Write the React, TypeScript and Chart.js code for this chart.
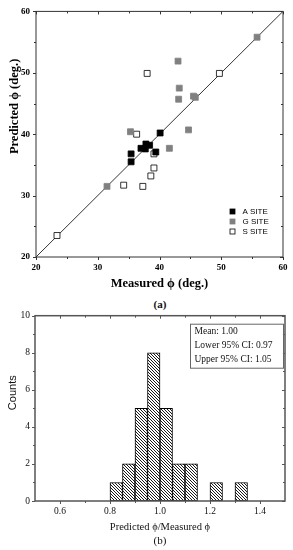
import React, { useEffect, useRef } from 'react';
import { Chart, registerables } from 'chart.js';

Chart.register(...registerables);

const SERIF = '"Liberation Serif", "Times New Roman", serif';
const SANS = '"Liberation Sans", Arial, sans-serif';

// ---------- Panel (a): measured vs predicted friction angle ----------
const siteLabels = ['A SITE', 'G SITE', 'S SITE'];
const aSiteMeasured = [35.4, 35.4, 37.0, 37.7, 37.8, 38.4, 39.4, 40.1];
const aSitePredicted = [36.8, 35.5, 37.7, 37.6, 38.4, 38.2, 37.1, 40.2];
const gSiteMeasured = [31.5, 35.3, 41.6, 43.0, 43.2, 43.1, 44.7, 45.5, 45.8, 55.8];
const gSitePredicted = [31.5, 40.4, 37.7, 51.9, 47.5, 45.7, 40.7, 46.2, 46.0, 55.8];
const sSiteMeasured = [23.4, 34.2, 36.3, 37.3, 38.0, 38.6, 39.1, 39.1, 49.7];
const sSitePredicted = [23.5, 31.7, 40.0, 31.5, 49.9, 33.2, 36.8, 34.5, 49.9];
const phiRange = [20, 60];
const phiTicks = [20, 30, 40, 50, 60];
const phiMinorTicks = [25, 35, 45, 55];

// ---------- Panel (b): histogram of predicted/measured ratio ----------
const binStarts = [0.8, 0.85, 0.9, 0.95, 1.0, 1.05, 1.1, 1.2, 1.3];
const binCounts = [1, 2, 5, 8, 5, 2, 2, 1, 1];
const binWidth = 0.05;
const ratioRange = [0.5, 1.5];
const ratioTicks = [0.6, 0.8, 1.0, 1.2, 1.4];
const ratioMinorTicks = [0.7, 0.9, 1.1, 1.3];
const countRange = [0, 10];
const countTicks = [0, 2, 4, 6, 8, 10];
const countMinorTicks = [1, 3, 5, 7, 9];
const statLines = ['Mean: 1.00', 'Lower 95% CI: 0.97', 'Upper 95% CI: 1.05'];

type FrameCfg = {
  color: string;
  width: number;
  xMajor: number[];
  xMinor: number[];
  yMajor: number[];
  yMinor: number[];
  majorLen: number;
  minorLen: number;
};

function makeFramePlugin(cfg: FrameCfg) {
  return {
    id: 'frameTicks',
    afterDraw(chart: any) {
      const { ctx, chartArea: a } = chart;
      const xs = chart.scales.x;
      const ys = chart.scales.y;
      ctx.save();
      ctx.strokeStyle = cfg.color;
      ctx.lineWidth = cfg.width;
      ctx.strokeRect(a.left, a.top, a.right - a.left, a.bottom - a.top);
      ctx.lineWidth = 1;
      ctx.beginPath();
      const xt = (vals: number[], len: number) =>
        vals.forEach((v) => {
          const p = Math.round(xs.getPixelForValue(v)) + 0.5;
          ctx.moveTo(p, a.bottom);
          ctx.lineTo(p, a.bottom + len);
          ctx.moveTo(p, a.top);
          ctx.lineTo(p, a.top + len);
        });
      const yt = (vals: number[], len: number) =>
        vals.forEach((v) => {
          const p = Math.round(ys.getPixelForValue(v)) + 0.5;
          ctx.moveTo(a.left, p);
          ctx.lineTo(a.left - len, p);
          ctx.moveTo(a.right, p);
          ctx.lineTo(a.right - len, p);
        });
      xt(cfg.xMajor, cfg.majorLen);
      xt(cfg.xMinor, cfg.minorLen);
      yt(cfg.yMajor, cfg.majorLen);
      yt(cfg.yMinor, cfg.minorLen);
      ctx.stroke();
      ctx.restore();
    },
  };
}

// Vertical axis title, placed like the original (a little above the axis centre)
function makeYTitlePlugin(text: string, font: string, color: string, x: number, dyFromTop: number) {
  return {
    id: 'yTitle',
    afterDraw(chart: any) {
      const { ctx, chartArea: a } = chart;
      ctx.save();
      ctx.translate(x, a.top + dyFromTop);
      ctx.rotate(-Math.PI / 2);
      ctx.font = font;
      ctx.fillStyle = color;
      ctx.textAlign = 'center';
      ctx.textBaseline = 'middle';
      ctx.fillText(text, 0, 0);
      ctx.restore();
    },
  };
}

const siteLegendPlugin = {
  id: 'siteLegend',
  afterDraw(chart: any) {
    const { ctx, chartArea: a } = chart;
    ctx.save();
    ctx.font = `8px ${SANS}`;
    ctx.textBaseline = 'middle';
    ctx.textAlign = 'left';
    const side = 5;
    for (let i = 0; i < 3; i++) {
      const ds = chart.data.datasets[i];
      const cx = a.right - 50.5;
      const cy = a.bottom - 45.5 + i * 10;
      ctx.fillStyle = ds.backgroundColor;
      ctx.fillRect(cx - side / 2, cy - side / 2, side, side);
      ctx.strokeStyle = ds.borderColor;
      ctx.lineWidth = 0.8;
      ctx.strokeRect(cx - side / 2, cy - side / 2, side, side);
      ctx.fillStyle = '#000';
      ctx.fillText(ds.label, a.right - 40.5, cy);
    }
    ctx.restore();
  },
};

const statsBoxPlugin = {
  id: 'statsBox',
  afterDraw(chart: any) {
    const { ctx, chartArea: a } = chart;
    ctx.save();
    const w = 93;
    const h = 44;
    const x = a.right - 2 - w;
    const y = a.top + 8;
    ctx.fillStyle = '#fff';
    ctx.fillRect(x, y, w, h);
    ctx.strokeStyle = '#666';
    ctx.lineWidth = 1;
    ctx.strokeRect(x + 0.5, y + 0.5, w, h);
    ctx.fillStyle = '#111';
    ctx.font = `9.5px ${SERIF}`;
    ctx.textBaseline = 'middle';
    ctx.textAlign = 'left';
    statLines.forEach((t, i) => ctx.fillText(t, x + 4.5, y + 8 + i * 14));
    ctx.restore();
  },
};

function makeHatch(ctx: CanvasRenderingContext2D) {
  const s = 3;
  const c = document.createElement('canvas');
  c.width = s;
  c.height = s;
  const g = c.getContext('2d')!;
  g.fillStyle = '#fff';
  g.fillRect(0, 0, s, s);
  g.strokeStyle = '#000';
  g.lineWidth = 0.9;
  g.beginPath();
  g.moveTo(-1, -1);
  g.lineTo(s + 1, s + 1);
  g.moveTo(-1, s - 1);
  g.lineTo(1, s + 1);
  g.moveTo(s - 1, -1);
  g.lineTo(s + 1, 1);
  g.stroke();
  return ctx.createPattern(c, 'repeat');
}

const pts = (xs: number[], ys: number[]) => xs.map((x, i) => ({ x, y: ys[i] }));

export default function App() {
  const topRef = useRef<HTMLCanvasElement>(null);
  const botRef = useRef<HTMLCanvasElement>(null);

  useEffect(() => {
    const tickFontBold = { family: SERIF, size: 9, weight: 'bold' as const };
    const topChart = new Chart(topRef.current!, {
      type: 'scatter',
      data: {
        datasets: [
          {
            label: siteLabels[0],
            data: pts(aSiteMeasured, aSitePredicted),
            pointStyle: 'rect',
            pointRadius: 4.2,
            backgroundColor: '#000',
            borderColor: '#000',
            borderWidth: 0.8,
            order: 1,
          },
          {
            label: siteLabels[1],
            data: pts(gSiteMeasured, gSitePredicted),
            pointStyle: 'rect',
            pointRadius: 4.2,
            backgroundColor: '#808080',
            borderColor: '#808080',
            borderWidth: 0.8,
            order: 2,
          },
          {
            label: siteLabels[2],
            data: pts(sSiteMeasured, sSitePredicted),
            pointStyle: 'rect',
            pointRadius: 4.2,
            backgroundColor: '#fff',
            borderColor: '#000',
            borderWidth: 0.8,
            order: 3,
          },
          {
            label: '1:1',
            data: pts(phiRange, phiRange),
            showLine: true,
            pointRadius: 0,
            borderColor: '#000',
            borderWidth: 0.8,
            order: 10,
          },
        ],
      },
      options: {
        animation: false,
        responsive: false,
        layout: { padding: { top: 10, right: 10, left: 0, bottom: 0 } },
        plugins: { legend: { display: false }, tooltip: { enabled: false } },
        scales: {
          x: {
            type: 'linear',
            min: phiRange[0],
            max: phiRange[1],
            grid: { display: false, drawTicks: false },
            border: { display: false },
            afterBuildTicks: (s: any) => {
              s.ticks = phiTicks.map((v) => ({ value: v }));
            },
            afterFit: (s: any) => {
              s.height = 38;
            },
            ticks: { font: tickFontBold, color: '#000', padding: 5, callback: (v: any) => String(v) },
            title: {
              display: true,
              text: 'Measured ϕ (deg.)',
              color: '#000',
              font: { family: SERIF, size: 12.5, weight: 'bold' },
              padding: { top: 0, bottom: 4 },
            },
          },
          y: {
            type: 'linear',
            min: phiRange[0],
            max: phiRange[1],
            grid: { display: false, drawTicks: false },
            border: { display: false },
            afterBuildTicks: (s: any) => {
              s.ticks = phiTicks.map((v) => ({ value: v }));
            },
            afterFit: (s: any) => {
              s.width = 36;
            },
            ticks: { font: tickFontBold, color: '#000', padding: 6, callback: (v: any) => String(v) },
            title: { display: false },
          },
        },
      },
      plugins: [
        makeFramePlugin({
          color: '#333',
          width: 1,
          xMajor: phiTicks,
          xMinor: phiMinorTicks,
          yMajor: phiTicks,
          yMinor: phiMinorTicks,
          majorLen: 3,
          minorLen: 2,
        }),
        makeYTitlePlugin('Predicted ϕ (deg.)', `bold 12.5px ${SERIF}`, '#000', 15, 95),
        siteLegendPlugin,
      ],
    } as any);

    const botCanvas = botRef.current!;
    const hatch = makeHatch(botCanvas.getContext('2d')!);
    const tickFont = { family: SERIF, size: 9.5 };
    const botChart = new Chart(botCanvas, {
      type: 'bar',
      data: {
        datasets: [
          {
            label: 'Counts',
            data: binStarts.map((s, i) => ({ x: s + binWidth / 2, y: binCounts[i] })),
            backgroundColor: hatch as any,
            borderColor: '#000',
            borderWidth: 1,
            borderSkipped: false,
            barPercentage: 1,
            categoryPercentage: 1,
          },
        ],
      },
      options: {
        animation: false,
        responsive: false,
        layout: { padding: { top: 10, right: 8, left: 0, bottom: 0 } },
        plugins: { legend: { display: false }, tooltip: { enabled: false } },
        scales: {
          x: {
            type: 'linear',
            min: ratioRange[0],
            max: ratioRange[1],
            offset: false,
            grid: { display: false, drawTicks: false },
            border: { display: false },
            afterBuildTicks: (s: any) => {
              s.ticks = ratioTicks.map((v) => ({ value: v }));
            },
            afterFit: (s: any) => {
              s.height = 36;
            },
            ticks: { font: tickFont, color: '#111', padding: 5, callback: (v: any) => Number(v).toFixed(1) },
            title: {
              display: true,
              text: 'Predicted ϕ/Measured ϕ',
              color: '#111',
              font: { family: SERIF, size: 10.5 },
              padding: { top: 0, bottom: 3 },
            },
          },
          y: {
            type: 'linear',
            min: countRange[0],
            max: countRange[1],
            grid: { display: false, drawTicks: false },
            border: { display: false },
            afterBuildTicks: (s: any) => {
              s.ticks = countTicks.map((v) => ({ value: v }));
            },
            afterFit: (s: any) => {
              s.width = 35;
            },
            ticks: { font: tickFont, color: '#111', padding: 5, callback: (v: any) => String(v) },
            title: { display: false },
          },
        },
      },
      plugins: [
        makeFramePlugin({
          color: '#555',
          width: 1.5,
          xMajor: ratioTicks,
          xMinor: ratioMinorTicks,
          yMajor: countTicks,
          yMinor: countMinorTicks,
          majorLen: 3,
          minorLen: 2,
        }),
        makeYTitlePlugin('Counts', `11px ${SANS}`, '#111', 13, 77),
        statsBoxPlugin,
      ],
    } as any);

    return () => {
      topChart.destroy();
      botChart.destroy();
    };
  }, []);

  const caption: React.CSSProperties = {
    position: 'absolute',
    left: 60,
    width: 200,
    textAlign: 'center',
    fontFamily: SERIF,
    fontSize: 11,
    lineHeight: '12px',
    color: '#111',
  };

  return (
    <div style={{ position: 'fixed', left: 0, top: 0, width: 293, height: 550, background: '#fff' }}>
      <canvas ref={topRef} width={293} height={295} style={{ position: 'absolute', left: 0, top: 0 }} />
      <div style={{ ...caption, top: 298, fontWeight: 'bold' }}>(a)</div>
      <canvas ref={botRef} width={293} height={232} style={{ position: 'absolute', left: 0, top: 305 }} />
      <div style={{ ...caption, top: 534 }}>(b)</div>
    </div>
  );
}
